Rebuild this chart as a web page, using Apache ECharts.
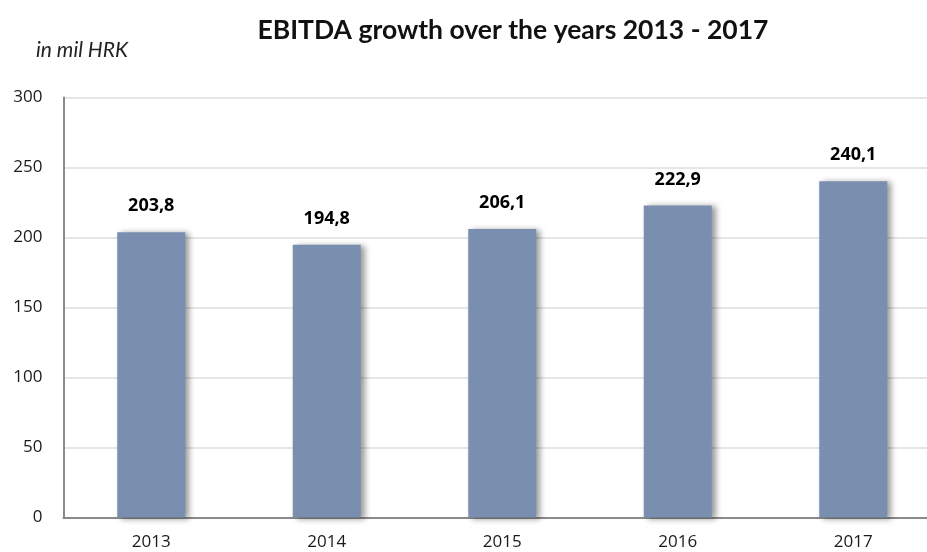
<!DOCTYPE html>
<html>
<head>
<meta charset="utf-8">
<script src="https://cdn.jsdelivr.net/npm/echarts@6/dist/echarts.min.js"></script>
<style>
  html, body { margin: 0; padding: 0; background: #fff; overflow: hidden; }
  #wrap { width: 927px; height: 552px; overflow: hidden; }
  /* the plot runs slightly past the right edge of the page */
  #chart { width: 941px; height: 552px; }
</style>
</head>
<body>
<div id="wrap"><div id="chart"></div></div>
<script>
// EBITDA per year, in millions of HRK
const years = ['2013', '2014', '2015', '2016', '2017'];
const ebitda = [203.8, 194.8, 206.1, 222.9, 240.1];
const yTicks = [0, 50, 100, 150, 200, 250, 300];

const chart = echarts.init(document.getElementById('chart'), null, { renderer: 'canvas' });

// Croatian-style decimal comma
const fmt = v => v.toFixed(1).replace('.', ',');

chart.setOption({
  animation: false,
  backgroundColor: '#ffffff',
  title: [
    {
      text: 'EBITDA growth over the years 2013 - 2017',
      left: 508, top: 12, textAlign: 'center',
      textStyle: { fontFamily: 'Lato', fontWeight: 'bold', fontSize: 26.5, color: '#111' }
    },
    {
      text: 'in mil HRK',
      left: 31, top: 35,
      textStyle: { fontFamily: 'Lato', fontStyle: 'italic', fontWeight: 'normal', fontSize: 21, color: '#222' }
    }
  ],
  grid: { left: 63.5, top: 97.5, right: 0, bottom: 34.5, containLabel: false },
  xAxis: {
    type: 'category',
    data: years,
    axisLine: { lineStyle: { color: '#8a8a8a', width: 2 } },
    axisTick: { show: false },
    axisLabel: { color: '#1a1a1a', fontFamily: 'Open Sans', fontSize: 17, margin: 16 }
  },
  yAxis: {
    type: 'value',
    min: yTicks[0],
    max: yTicks[yTicks.length - 1],
    interval: yTicks[1] - yTicks[0],
    axisLine: { show: true, lineStyle: { color: '#8a8a8a', width: 2 } },
    axisTick: { show: false },
    axisLabel: { color: '#1a1a1a', fontFamily: 'Open Sans', fontSize: 17, margin: 21 },
    splitLine: { lineStyle: { color: '#e3e7e7', width: 2 } }
  },
  series: [{
    type: 'bar',
    data: ebitda,
    barWidth: 68,
    itemStyle: {
      color: '#7a8faf',
      shadowColor: 'rgba(0,0,0,0.4)',
      shadowBlur: 6,
      shadowOffsetX: 4,
      shadowOffsetY: 1
    },
    label: {
      show: true,
      position: 'top',
      distance: 17,
      formatter: p => fmt(p.value),
      color: '#000',
      fontFamily: 'Open Sans',
      fontWeight: 'bold',
      fontSize: 18
    }
  }]
});
</script>
</body>
</html>
